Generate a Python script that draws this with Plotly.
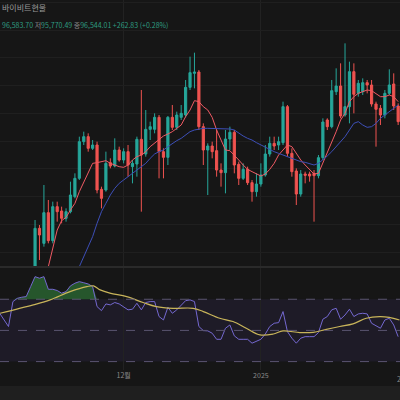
import numpy as np, pandas as pd
import plotly.graph_objects as go

# Levels, in screen units (smaller = higher); converted to price below
dirs = "g r g r g r r g g g g g r g r r g r g r g r g g r g g g r r g r g g g g g r r g r r r g g r r g r r g g g g r g g r r r g r r r g g r g g r g g r g g r r r r g g r r".split()
tops = [595,595,548,548,530,530,543,545,495,445,335,320,320,345,345,478,400,398,360,360,365,365,400,328,328,298,290,262,262,365,262,262,255,250,172,128,126,126,290,348,348,362,
        420,327,307,307,403,418,418,458,462,435,372,340,340,335,230,230,370,423,432,432,432,430,383,276,270,182,168,168,230,125,125,160,158,158,165,222,235,190,165,162,228]
bots = [710,615,640,632,632,545,565,565,545,500,445,335,355,355,480,505,480,408,408,390,390,405,410,402,375,372,298,298,365,382,382,292,292,262,255,172,130,290,360,360,365,420,
        428,428,327,405,445,445,458,485,485,462,435,372,348,345,338,370,425,492,492,436,438,437,437,383,290,290,185,258,255,230,193,190,185,165,222,238,255,255,190,228,275]
his = [570,585,465,510,515,515,530,535,455,430,320,305,310,330,335,470,365,385,325,350,355,345,390,320,180,240,275,250,255,355,258,225,245,225,150,80,68,120,280,340,335,300,
       400,300,290,300,395,400,410,450,430,400,345,320,320,320,215,225,355,415,420,425,425,420,375,265,265,150,115,100,40,95,100,150,145,150,150,215,225,180,118,130,220]
los = [720,690,650,640,640,575,580,575,550,505,450,345,365,360,490,535,485,415,412,395,400,440,460,440,545,380,330,310,445,445,405,300,300,270,262,180,175,300,405,495,385,440,
       470,490,360,430,465,450,465,515,500,470,440,380,360,360,345,380,440,525,500,460,455,575,445,390,300,295,195,265,260,280,250,200,195,190,230,350,285,265,195,240,285]
ma_fast = [None]*3 + [710,650,600,572,562,540,520,485,455,430,400,398,395,392,400,405,410,412,405,390,380,375,365,350,340,330,318,312,305,295,285,260,240,212,215,230,240,262,300,
           330,360,362,375,390,405,418,425,432,438,432,418,400,375,360,345,350,370,390,405,420,432,430,400,370,340,305,270,250,215,200,190,185,180,182,192,200,200,195,200,215]
ma_slow = [None]*10 + [710,680,655,620,580,545,520,495,475,460,450,440,430,420,412,400,385,372,365,360,350,340,332,325,315,305,300,297,295,295,295,296,
           297,297,297,300,310,318,325,330,338,345,352,360,365,370,375,380,385,390,395,397,400,405,400,390,378,365,350,335,320,300,280,275,285,292,290,280,265,255,245,235,225]
rsi = [61,57,52.5,68.5,70.6,71.3,71.7,78.1,84.5,83.5,84.5,76.4,76.4,75.6,73.9,74.9,78.6,80.3,81.3,80.6,79.8,78.1,65.3,62.7,67,66.4,67.9,67,65.3,63.2,63.6,67.4,63.2,67.9,68.5,68.5,
       58.9,56.7,64.9,61,63.2,66.4,69.1,69.6,68.5,52.5,49.9,49.7,48.2,44.3,44.3,51.4,53.5,46.5,44.3,44.3,44.3,41.8,42.8,44.3,47.7,52.5,54.6,55,62.1,49.2,45,41.8,45,46,46,46,48.6,
       57.2,58.9,63.2,64.2,57.2,59.9,63.6,58.9,60.6,61,60.6,54.6,52.9,51.4,56.7,57.8,53.5,46]
sig_idx = [-6.9,0.6,4.4,8.9,12.7,14.2,15.7,17.9,21.7,25.4,28.4,32.2,36.7,39,42.7,45.7,48.7,51.8,54.8,57,60.8,63.8,66.8,69.8,72.8,75.8,78.8,81,83.3]
sig_val = [61,66.4,69.6,74.9,78.1,78.6,76,73.9,71.7,67.9,65.3,64.2,64.2,62.1,57.8,55.7,51.4,47.1,47.7,49.7,48.6,48.8,50.7,52.5,54.2,57.8,58.9,58.4,56.7]
tick_dates = ["2024-12-01", "2025-01-01"]
tick_text = ["12월", "2025"]
edge_label = "2월"

def price(v):
    return [None if x is None else 110000 - 60 * x for x in v]

start = pd.Timestamp("2024-11-11")
n = len(tops)
dates = [start + pd.Timedelta(days=i) for i in range(n)]
opens = [b if d == "g" else t for d, t, b in zip(dirs, tops, bots)]
closes = [t if d == "g" else b for d, t, b in zip(dirs, tops, bots)]
rsi_dates = [start + pd.Timedelta(days=i - 8) for i in range(len(rsi))]
sig_dates = [start + pd.Timedelta(days=k - 1) for k in sig_idx]

fig = go.Figure()
fig.add_trace(go.Candlestick(x=dates, open=price(opens), high=price(his), low=price(los), close=price(closes),
    increasing=dict(line=dict(color="#26a69a", width=1), fillcolor="#26a69a"),
    decreasing=dict(line=dict(color="#ef5350", width=1), fillcolor="#ef5350"),
    whiskerwidth=0, xaxis="x", yaxis="y", showlegend=False))
fig.add_trace(go.Scatter(x=dates, y=price(ma_fast), mode="lines", line=dict(color="#f05a64", width=1), yaxis="y"))
fig.add_trace(go.Scatter(x=dates, y=price(ma_slow), mode="lines", line=dict(color="#3d4fb8", width=1), yaxis="y"))

# RSI panel
fig.add_trace(go.Scatter(x=rsi_dates, y=[70]*len(rsi), mode="lines", line=dict(width=0), yaxis="y2", hoverinfo="skip"))
fig.add_trace(go.Scatter(x=rsi_dates, y=[max(r, 70) for r in rsi], mode="lines", line=dict(width=0),
    fill="tonexty", fillcolor="rgba(50,130,60,0.6)", yaxis="y2"))
fig.add_trace(go.Scatter(x=rsi_dates, y=rsi, mode="lines", line=dict(color="#7468d0", width=1), yaxis="y2"))
fig.add_trace(go.Scatter(x=sig_dates, y=sig_val, mode="lines", line=dict(color="#c8b45a", width=1.2, shape="spline"), yaxis="y2"))

fig.add_shape(type="rect", xref="paper", x0=0, x1=1, yref="y2", y0=30, y1=70, fillcolor="rgba(110,80,200,0.10)", line=dict(width=0), layer="below")
for lv in (30, 50, 70):
    fig.add_shape(type="line", xref="paper", x0=0, x1=1, yref="y2", y0=lv, y1=lv, line=dict(color="#5a5470", width=1, dash="dash"))
fig.add_shape(type="line", xref="paper", x0=0, x1=1, yref="paper", y0=0.3325, y1=0.3325, line=dict(color="#2a2a2a", width=2))
fig.add_shape(type="rect", xref="paper", x0=0, x1=1, yref="paper", y0=-0.01, y1=0.035, fillcolor="#1f1f1f", line=dict(width=0))

fig.add_annotation(x=0.0, y=1.0, xref="paper", yref="paper", xanchor="left", yanchor="top", showarrow=False,
    text="바이비트현물", font=dict(size=8, color="#9a9a9a", family="Noto Sans CJK KR"))
fig.add_annotation(x=0.0, y=0.955, xref="paper", yref="paper", xanchor="left", yanchor="top", showarrow=False,
    text="96,583.70 <span style='color:#888'>저</span>95,770.49 <span style='color:#888'>종</span>96,544.01 +262.83 (+0.28%)",
    font=dict(size=7, color="#2e9b80", family="Noto Sans CJK KR"))
fig.add_annotation(x=0.987, y=0.07, xref="paper", yref="paper", xanchor="left", yanchor="top", showarrow=False,
    text=edge_label, font=dict(size=7, color="#8a8a8a", family="Noto Sans CJK KR"))

fig.update_layout(
    width=400, height=400, margin=dict(l=0, r=0, t=0, b=0),
    paper_bgcolor="#161616", plot_bgcolor="#161616", showlegend=False,
    xaxis=dict(range=[pd.Timestamp("2024-11-03 02:00"), pd.Timestamp("2025-02-01 10:00")], rangeslider=dict(visible=False),
               showgrid=True, gridcolor="#222222", tickvals=tick_dates, ticktext=tick_text,
               tickfont=dict(size=7, color="#8a8a8a", family="Noto Sans CJK KR"), anchor="y2", ticks="", zeroline=False),
    yaxis=dict(domain=[0.3325, 1], range=[110000 - 60 * 711, 110000 + 60 * 90], showticklabels=False,
               showgrid=True, gridcolor="#1f1f1f", zeroline=False, dtick=5000),
    yaxis2=dict(domain=[0.075, 0.3325], range=[24.6, 90.7], showticklabels=False, showgrid=False, zeroline=False),
)
fig.write_html("out.html", config={"displayModeBar": False},
               post_script="document.body.style.margin='0';document.body.style.background='#161616';")
